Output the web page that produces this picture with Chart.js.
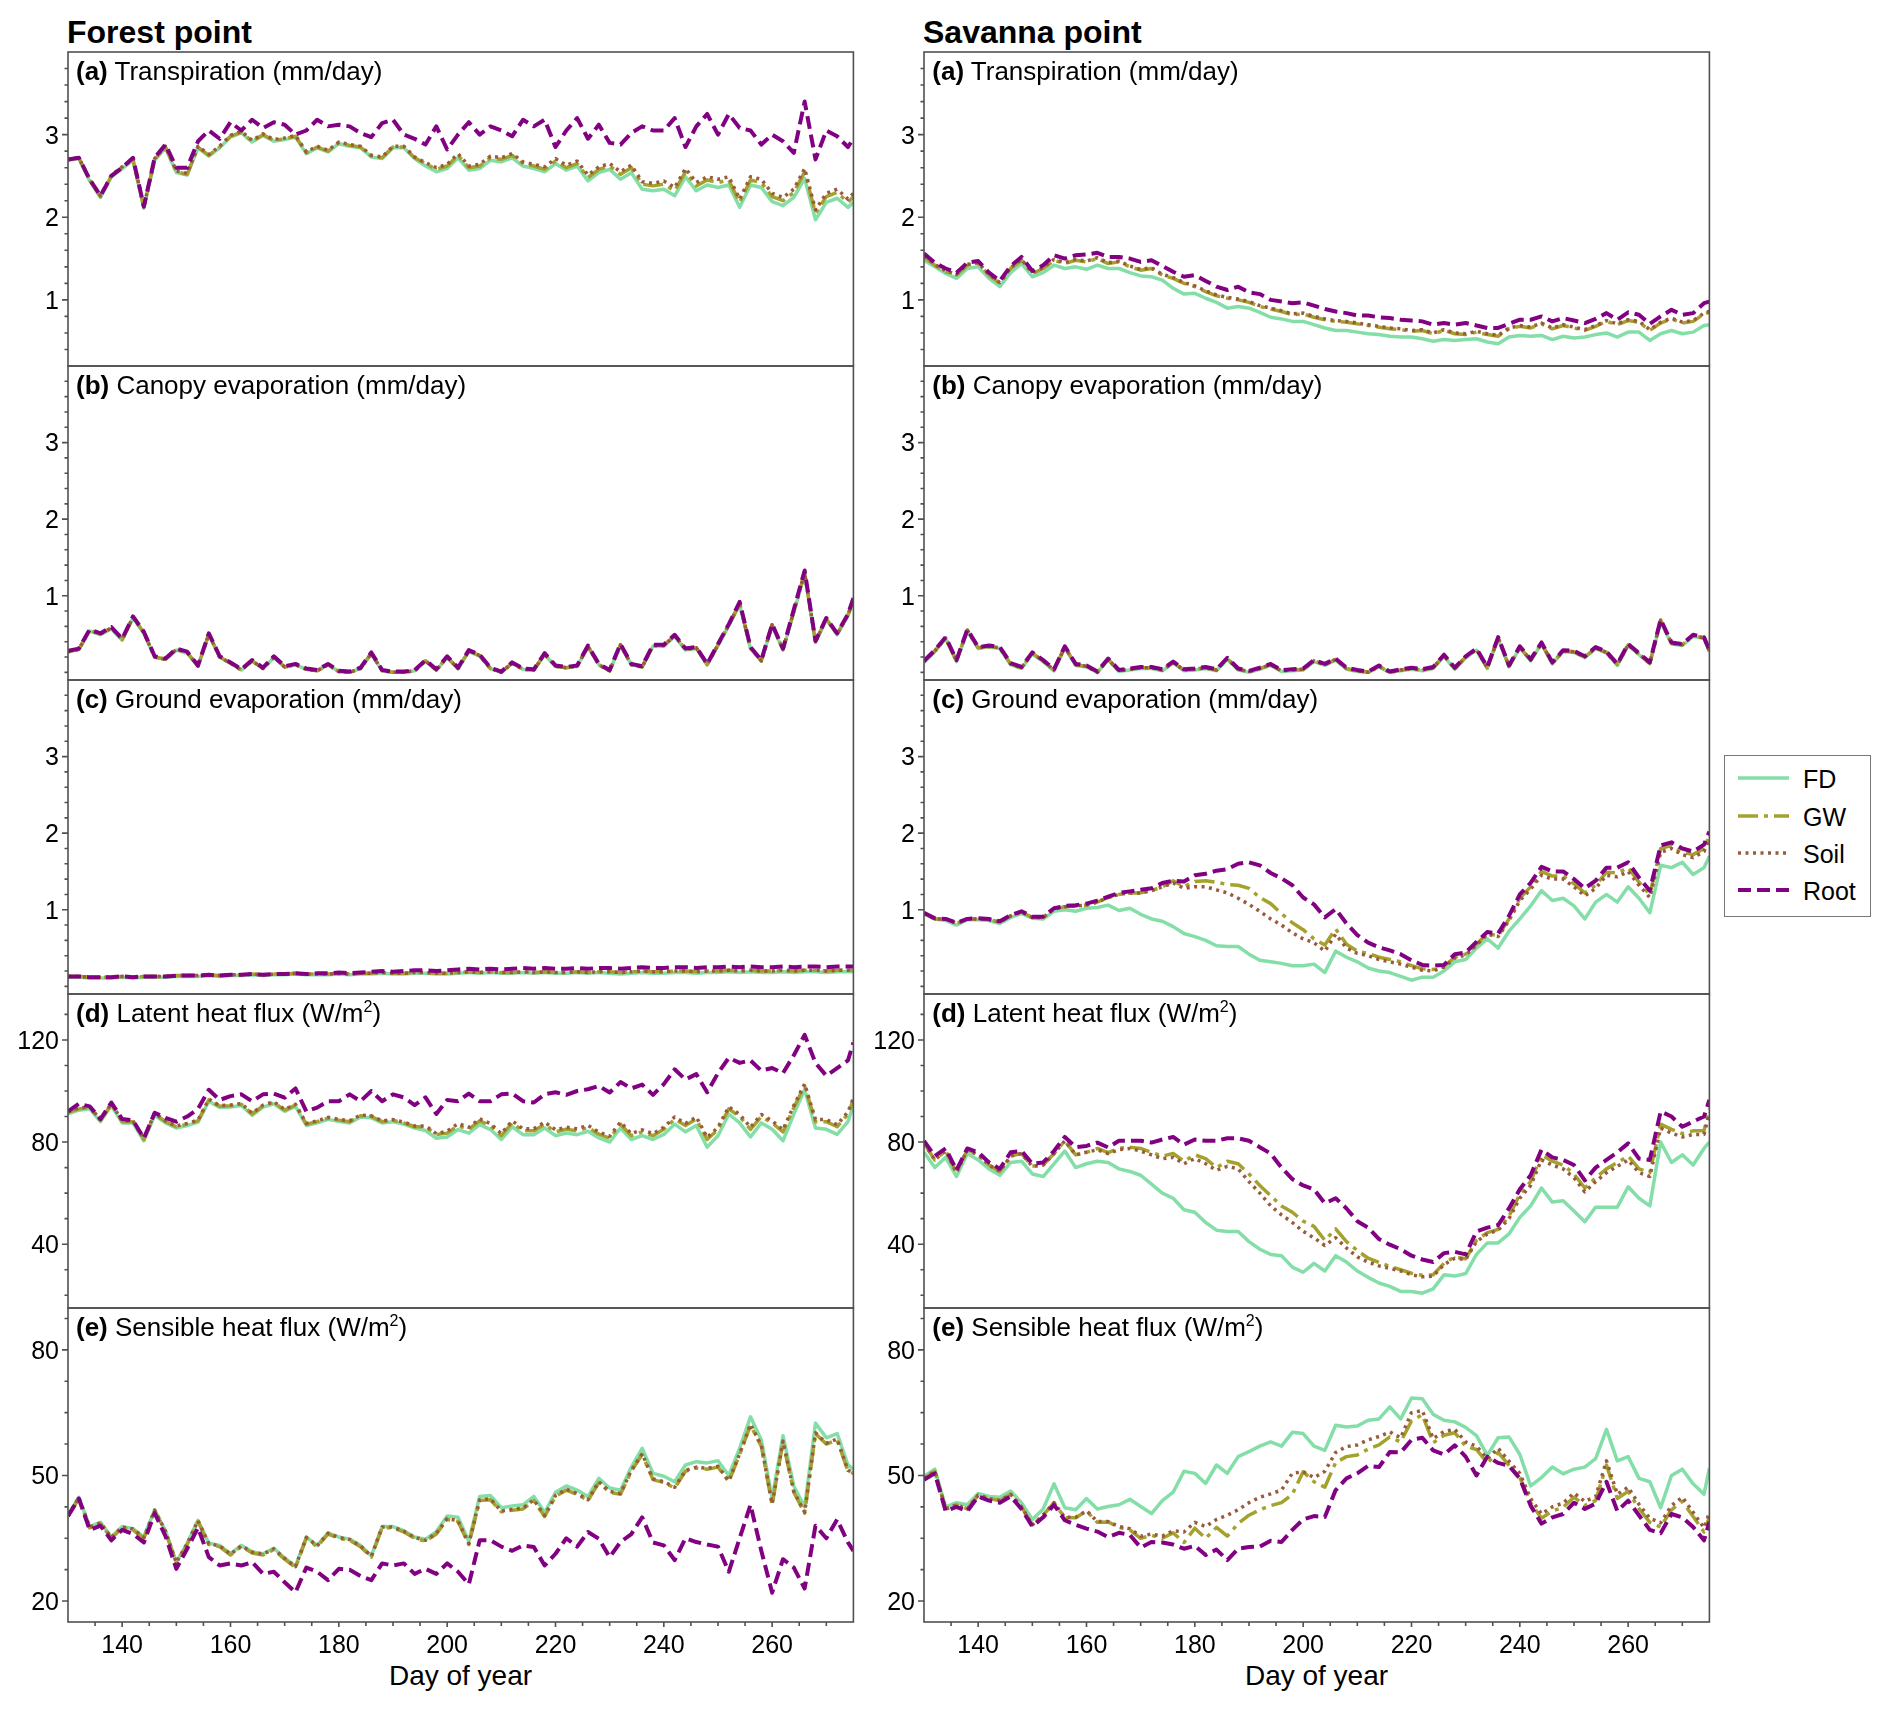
<!DOCTYPE html>
<html>
<head>
<meta charset="utf-8">
<script src="https://cdn.jsdelivr.net/npm/chart.js@4.4.1/dist/chart.umd.min.js"></script>
<style>
  body { margin: 0; background: #fff; width: 1892px; height: 1710px; position: relative; overflow: hidden;
         font-family: "Liberation Sans", Arial, Helvetica, sans-serif; color: #000; }
  canvas { position: absolute; }
  .title { position: absolute; font-weight: bold; font-size: 32px; line-height: 1; white-space: nowrap; }
  .lab { position: absolute; font-size: 26px; line-height: 1; white-space: nowrap; }
  .sup { font-size: 16px; position: relative; top: -10px; }
  .xt { position: absolute; font-size: 28px; line-height: 1; text-align: center; width: 785px; }
  #legend { position: absolute; left: 1724px; top: 755px; width: 145px; height: 160px;
            border: 1.5px solid #777; background: #fff; }
  .lg-line { position: absolute; left: 12.5px; }
  .lg-text { position: absolute; left: 78px; font-size: 25px; line-height: 1; }
</style>
</head>
<body>
<div class="title" style="left:67px;top:16px">Forest point</div>
<div class="title" style="left:923px;top:16px">Savanna point</div>
<div class="xt" style="left:68px;top:1662px">Day of year</div>
<div class="xt" style="left:924px;top:1662px">Day of year</div>
<div id="legend"></div>

<script>
// day of year (sampled every 2nd day)
const days = [130,132,134,136,138,140,142,144,146,148,150,152,154,156,158,160,162,164,166,168,
  170,172,174,176,178,180,182,184,186,188,190,192,194,196,198,200,202,204,206,208,
  210,212,214,216,218,220,222,224,226,228,230,232,234,236,238,240,242,244,246,248,
  250,252,254,256,258,260,262,264,266,268,270,272,274,275];

// ---- Forest point ----
// (a) transpiration, mm/day
const forestTrFD = [2.69,2.71,2.44,2.24,2.49,2.59,2.69,2.11,2.69,2.84, 2.54,2.51,2.84,2.74,2.84,2.97,3.02,2.91,2.99,2.92,
  2.94,2.97,2.77,2.84,2.79,2.89,2.86,2.84,2.73,2.71, 2.84,2.84,2.71,2.62,2.55,2.59,2.72,2.57,2.59,2.69,
  2.67,2.72,2.62,2.59,2.55,2.65,2.57,2.62,2.44,2.54, 2.58,2.46,2.54,2.34,2.32,2.34,2.26,2.49,2.32,2.39,
  2.36,2.39,2.12,2.39,2.36,2.19,2.14,2.24,2.47,1.97, 2.18,2.23,2.12,2.18];
const forestTrGW = [2.70,2.72,2.45,2.25,2.50,2.60,2.70,2.12,2.70,2.85, 2.55,2.52,2.85,2.75,2.85,2.98,3.03,2.92,3.00,2.93,
  2.95,2.98,2.78,2.85,2.80,2.90,2.87,2.85,2.74,2.72, 2.85,2.85,2.72,2.65,2.58,2.62,2.75,2.60,2.62,2.72,
  2.70,2.75,2.65,2.62,2.58,2.68,2.60,2.65,2.48,2.58, 2.62,2.52,2.60,2.40,2.38,2.40,2.32,2.55,2.38,2.45,
  2.42,2.45,2.18,2.45,2.42,2.25,2.20,2.30,2.55,2.05, 2.25,2.30,2.18,2.25];
const forestTrSoil = [2.70,2.72,2.46,2.26,2.51,2.61,2.71,2.13,2.71,2.86, 2.56,2.53,2.86,2.76,2.86,2.99,3.04,2.93,3.01,2.94,
  2.96,2.99,2.79,2.86,2.81,2.91,2.88,2.86,2.75,2.73, 2.86,2.86,2.73,2.66,2.60,2.64,2.77,2.62,2.64,2.74,
  2.72,2.77,2.67,2.64,2.61,2.71,2.63,2.68,2.51,2.61, 2.65,2.55,2.63,2.43,2.41,2.44,2.36,2.59,2.42,2.49,
  2.46,2.49,2.22,2.49,2.46,2.29,2.24,2.34,2.59,2.09, 2.29,2.34,2.22,2.29];
const forestTrRoot = [2.70,2.72,2.46,2.26,2.50,2.60,2.72,2.13,2.72,2.88, 2.60,2.60,2.92,3.05,2.95,3.15,3.05,3.18,3.08,3.15,
  3.12,3.00,3.05,3.18,3.10,3.12,3.10,3.02,2.97,3.14, 3.18,3.00,2.95,2.88,3.10,2.82,3.00,3.15,3.00,3.10,
  3.05,2.98,3.18,3.10,3.18,2.85,3.05,3.20,2.95,3.12, 2.90,2.88,3.02,3.10,3.05,3.05,3.20,2.85,3.10,3.25,
  3.00,3.25,3.08,3.05,2.88,3.00,2.92,2.78,3.40,2.70, 3.05,2.98,2.85,2.95];

// (b) canopy evaporation, mm/day
const forestCeFD = [0.27,0.30,0.54,0.49,0.57,0.42,0.71,0.51,0.20,0.17, 0.29,0.25,0.08,0.49,0.20,0.12,0.03,0.15,0.05,0.19,
  0.07,0.10,0.04,0.02,0.10,0.01,0.00,0.05,0.24,0.02, 0.00,0.00,0.02,0.15,0.03,0.19,0.05,0.27,0.21,0.05,
  0.00,0.12,0.04,0.03,0.23,0.08,0.06,0.08,0.33,0.10, 0.02,0.35,0.10,0.07,0.34,0.34,0.47,0.29,0.31,0.10,
  0.35,0.61,0.88,0.31,0.15,0.61,0.29,0.78,1.28,0.39, 0.69,0.49,0.74,0.93];
const forestCeGW = [0.27,0.30,0.55,0.50,0.58,0.43,0.72,0.52,0.20,0.17, 0.30,0.26,0.08,0.50,0.20,0.12,0.03,0.15,0.05,0.20,
  0.07,0.10,0.04,0.02,0.10,0.01,0.00,0.05,0.25,0.02, 0.00,0.00,0.02,0.15,0.03,0.20,0.05,0.28,0.22,0.05,
  0.00,0.12,0.04,0.03,0.24,0.08,0.06,0.08,0.34,0.10, 0.02,0.36,0.10,0.07,0.35,0.35,0.48,0.30,0.32,0.10,
  0.36,0.62,0.90,0.32,0.15,0.62,0.30,0.80,1.30,0.40, 0.70,0.50,0.75,0.95];
const forestCeSoil = [0.27,0.30,0.55,0.50,0.58,0.43,0.72,0.52,0.20,0.17, 0.30,0.26,0.08,0.50,0.20,0.12,0.03,0.15,0.05,0.20,
  0.07,0.10,0.04,0.02,0.10,0.01,0.00,0.05,0.25,0.02, 0.00,0.00,0.02,0.15,0.03,0.20,0.05,0.28,0.22,0.05,
  0.00,0.12,0.04,0.03,0.24,0.08,0.06,0.08,0.34,0.10, 0.02,0.36,0.10,0.07,0.35,0.35,0.48,0.30,0.32,0.10,
  0.36,0.62,0.90,0.32,0.15,0.62,0.30,0.80,1.30,0.40, 0.70,0.50,0.75,0.95];
const forestCeRoot = [0.28,0.31,0.56,0.51,0.59,0.44,0.73,0.53,0.21,0.18, 0.31,0.27,0.09,0.51,0.21,0.13,0.04,0.16,0.06,0.21,
  0.08,0.11,0.05,0.03,0.11,0.02,0.01,0.06,0.26,0.03, 0.01,0.01,0.03,0.16,0.04,0.21,0.06,0.29,0.23,0.06,
  0.01,0.13,0.05,0.04,0.25,0.09,0.07,0.09,0.35,0.11, 0.03,0.37,0.11,0.08,0.36,0.36,0.49,0.31,0.33,0.11,
  0.37,0.63,0.92,0.33,0.16,0.63,0.31,0.82,1.33,0.41, 0.71,0.51,0.76,0.97];

// (c) ground evaporation, mm/day
const forestGeFD = [0.12,0.12,0.11,0.11,0.11,0.12,0.11,0.12,0.12,0.12, 0.13,0.13,0.13,0.14,0.13,0.14,0.14,0.15,0.14,0.15,
  0.15,0.16,0.15,0.15,0.15,0.16,0.15,0.16,0.16,0.17, 0.16,0.16,0.17,0.17,0.16,0.16,0.17,0.18,0.17,0.18,
  0.17,0.17,0.18,0.17,0.18,0.17,0.17,0.18,0.17,0.18, 0.17,0.16,0.17,0.18,0.17,0.17,0.18,0.18,0.17,0.18,
  0.18,0.19,0.18,0.19,0.18,0.18,0.19,0.18,0.19,0.19, 0.18,0.19,0.19,0.19];
const forestGeGW = [0.13,0.13,0.12,0.12,0.12,0.13,0.12,0.13,0.13,0.13, 0.14,0.14,0.14,0.15,0.14,0.15,0.15,0.16,0.15,0.16,
  0.16,0.17,0.16,0.16,0.16,0.17,0.16,0.17,0.17,0.18, 0.17,0.17,0.18,0.18,0.17,0.17,0.18,0.19,0.18,0.19,
  0.18,0.18,0.19,0.18,0.19,0.18,0.18,0.19,0.18,0.19, 0.19,0.18,0.19,0.20,0.19,0.19,0.20,0.20,0.19,0.20,
  0.20,0.21,0.20,0.21,0.20,0.20,0.21,0.20,0.21,0.21, 0.20,0.21,0.21,0.21];
const forestGeSoil = [0.13,0.13,0.12,0.12,0.12,0.13,0.12,0.13,0.13,0.13, 0.14,0.14,0.14,0.15,0.14,0.15,0.15,0.16,0.15,0.16,
  0.16,0.17,0.16,0.16,0.16,0.17,0.16,0.17,0.17,0.18, 0.17,0.17,0.18,0.18,0.17,0.17,0.18,0.19,0.18,0.19,
  0.18,0.18,0.19,0.18,0.19,0.18,0.18,0.19,0.18,0.19, 0.19,0.18,0.19,0.20,0.19,0.19,0.20,0.20,0.19,0.20,
  0.20,0.21,0.20,0.21,0.20,0.20,0.21,0.20,0.21,0.21, 0.20,0.21,0.21,0.21];
const forestGeRoot = [0.13,0.13,0.12,0.12,0.12,0.13,0.12,0.13,0.13,0.13, 0.14,0.14,0.14,0.15,0.14,0.15,0.15,0.16,0.15,0.16,
  0.16,0.17,0.16,0.17,0.17,0.18,0.17,0.18,0.19,0.20, 0.19,0.20,0.21,0.21,0.20,0.21,0.22,0.23,0.22,0.23,
  0.22,0.23,0.24,0.23,0.24,0.23,0.23,0.24,0.23,0.24, 0.24,0.23,0.24,0.25,0.24,0.24,0.25,0.25,0.24,0.25,
  0.25,0.26,0.25,0.26,0.25,0.25,0.26,0.25,0.26,0.26, 0.25,0.26,0.26,0.26];

// (d) latent heat flux, W/m2
const forestLhFD = [91.1,92.5,93.0,88.0,94.3,87.5,87.5,80.5,90.5,87.5, 85.5,86.5,87.8,96.0,93.5,93.7,94.3,90.5,93.7,95.0,
  92.0,94.0,86.5,87.5,88.9,88.1,87.5,89.8,89.5,87.5, 88.0,87.0,85.5,84.5,81.5,82.0,84.9,83.5,86.8,84.9,
  81.0,86.0,82.9,82.9,85.5,82.5,83.5,82.9,84.2,81.6, 80.0,85.5,81.0,82.5,81.0,83.0,87.0,84.0,86.5,78.0,
  82.5,91.0,87.5,82.0,87.5,85.0,80.5,91.0,100.5,85.5, 85.0,83.0,88.0,94.5];
const forestLhGW = [91.6,93.0,93.5,88.5,94.8,88.0,88.0,81.0,91.0,88.0, 86.0,87.0,88.3,96.5,94.0,94.2,94.8,91.0,94.2,95.5,
  92.5,94.5,87.0,88.0,89.4,88.6,88.0,90.3,90.0,88.0, 88.5,87.5,86.0,86.0,83.0,83.5,86.4,85.0,88.3,86.4,
  82.5,87.5,84.4,84.4,87.0,84.0,85.0,84.4,85.7,83.1, 81.5,87.0,82.5,84.0,82.5,85.0,89.0,86.5,89.0,81.0,
  85.0,93.0,90.0,85.0,90.0,87.5,84.0,93.5,102.0,88.0, 88.0,86.0,91.0,96.5];
const forestLhSoil = [91.8,93.3,93.8,88.8,95.1,88.3,88.3,81.3,91.3,88.3, 86.3,87.3,88.6,96.8,94.3,94.5,95.1,91.3,94.5,95.8,
  92.8,94.8,87.3,88.3,89.7,88.9,88.3,90.6,90.3,88.3, 88.8,87.8,86.3,86.3,83.3,84.3,87.2,85.8,89.1,87.2,
  83.3,88.3,85.2,85.2,87.8,84.8,85.8,85.2,86.5,83.9, 82.3,87.8,83.3,84.8,83.3,85.8,89.8,87.3,89.8,81.8,
  85.8,93.8,90.8,85.8,90.8,88.3,84.8,94.3,102.8,88.8, 88.8,86.8,91.8,97.3];
const forestLhRoot = [92.0,95.0,94.0,89.0,95.5,89.0,88.5,81.5,91.5,89.5, 88.0,90.0,93.0,100.5,96.5,98.0,98.7,96.0,98.7,99.0,
  97.4,101.0,92.0,93.5,96.0,96.0,98.7,96.0,100.0,96.0, 98.7,97.5,94.5,97.5,91.0,96.5,96.0,99.0,96.0,96.0,
  98.7,99.0,96.0,95.5,98.7,99.5,98.5,100.0,100.7,102.0, 99.4,103.5,101.0,102.5,98.5,102.7,108.5,104.5,106.6,99.5,
  107.0,113.0,111.0,112.0,108.0,109.0,107.0,114.0,122.0,111.0, 106.0,109.0,112.0,119.0];

// (e) sensible heat flux, W/m2
const forestShFD = [40.5,44.8,37.8,38.8,35.3,37.8,37.3,35.3,41.8,36.8, 29.3,33.8,39.3,33.8,33.3,31.3,33.3,31.8,31.3,32.6,
  30.3,28.3,35.3,33.3,36.3,35.3,34.8,33.3,30.8,37.8, 37.8,36.8,35.3,34.8,36.6,40.3,40.0,34.3,45.0,45.2,
  42.3,42.7,43.0,45.0,41.2,46.0,47.5,46.5,45.0,49.3, 47.0,46.5,52.0,56.5,50.5,49.8,48.5,52.5,53.3,53.0,
  53.5,50.0,56.5,64.0,58.5,44.5,59.5,47.5,42.5,62.5, 59.0,60.0,52.5,51.5];
const forestShGW = [40.3,44.5,37.5,38.5,35.0,37.5,37.0,35.0,41.5,36.5, 29.0,33.5,39.0,33.5,33.0,31.0,33.0,31.5,31.0,32.3,
  30.0,28.0,35.0,33.0,36.0,35.0,34.5,33.0,30.5,37.5, 37.5,36.5,35.0,34.3,36.0,39.5,39.0,33.5,44.0,44.2,
  41.3,41.7,42.0,44.0,40.2,45.0,46.5,45.5,44.0,48.3, 46.0,45.5,51.0,55.0,49.0,48.3,47.0,51.0,51.8,51.5,
  52.0,48.5,55.0,62.0,57.0,43.0,58.0,46.0,41.0,60.0, 57.5,58.5,51.0,50.5];
const forestShSoil = [40.5,44.7,37.7,38.7,35.2,37.7,37.2,35.2,41.7,36.7, 29.2,33.7,39.2,33.7,33.2,31.2,33.2,31.7,31.2,32.5,
  30.2,28.2,35.2,33.2,36.2,35.2,34.7,33.2,30.7,37.7, 37.7,36.7,35.2,34.5,36.2,39.7,39.2,33.7,44.2,44.4,
  41.5,41.9,42.2,44.2,40.4,45.2,46.7,45.7,44.2,48.5, 46.2,45.7,51.2,55.2,49.2,48.5,47.2,51.2,52.0,51.7,
  52.2,48.7,55.2,62.2,57.2,43.2,58.2,46.2,41.2,60.2, 57.7,58.7,51.2,50.7];
const forestShRoot = [40.3,44.5,37.0,38.0,34.5,37.0,36.0,34.0,41.0,35.5, 27.7,32.5,37.5,30.5,28.5,29.0,28.5,29.3,26.5,27.0,
  24.5,22.1,28.0,27.0,25.0,27.7,27.5,26.0,25.0,29.0, 28.5,29.0,26.5,27.7,26.5,29.0,27.0,24.0,34.5,34.5,
  33.0,32.0,33.3,32.9,28.5,31.3,35.0,33.0,36.5,34.9, 30.5,34.1,36.0,40.0,34.0,33.3,29.8,35.0,34.1,33.5,
  33.0,27.0,35.0,43.0,32.0,22.0,30.0,28.0,23.0,38.0, 35.0,39.5,34.0,32.0];

// ---- Savanna point ----
const savTrFD = [1.48,1.40,1.32,1.26,1.38,1.40,1.26,1.16,1.33,1.44, 1.28,1.33,1.42,1.38,1.40,1.37,1.42,1.38,1.38,1.33,
  1.29,1.28,1.24,1.14,1.07,1.08,1.02,0.97,0.90,0.92, 0.90,0.85,0.79,0.77,0.74,0.74,0.70,0.66,0.63,0.63,
  0.61,0.59,0.58,0.56,0.55,0.55,0.53,0.50,0.52,0.51, 0.52,0.53,0.49,0.47,0.55,0.57,0.56,0.57,0.52,0.56,
  0.54,0.55,0.58,0.60,0.55,0.61,0.61,0.51,0.59,0.63, 0.59,0.61,0.69,0.70];
const savTrGW = [1.52,1.42,1.34,1.30,1.42,1.44,1.30,1.20,1.38,1.48, 1.32,1.38,1.48,1.44,1.48,1.46,1.50,1.44,1.46,1.40,
  1.36,1.38,1.30,1.26,1.20,1.16,1.10,1.05,1.02,1.00, 0.97,0.92,0.89,0.86,0.82,0.83,0.79,0.76,0.74,0.73,
  0.71,0.69,0.67,0.65,0.64,0.62,0.63,0.59,0.63,0.59, 0.58,0.61,0.58,0.56,0.65,0.68,0.66,0.71,0.65,0.69,
  0.66,0.63,0.68,0.74,0.70,0.75,0.73,0.63,0.72,0.77, 0.72,0.74,0.83,0.85];
const savTrSoil = [1.53,1.43,1.35,1.31,1.43,1.45,1.31,1.21,1.39,1.49, 1.33,1.39,1.49,1.45,1.49,1.47,1.51,1.45,1.47,1.41,
  1.37,1.39,1.31,1.27,1.21,1.17,1.11,1.06,1.03,1.01, 0.98,0.93,0.90,0.87,0.83,0.84,0.80,0.77,0.75,0.74,
  0.72,0.70,0.68,0.66,0.65,0.63,0.64,0.60,0.64,0.60, 0.59,0.62,0.59,0.57,0.66,0.69,0.67,0.72,0.66,0.70,
  0.67,0.64,0.69,0.75,0.71,0.76,0.74,0.64,0.73,0.78, 0.73,0.75,0.84,0.86];
const savTrRoot = [1.56,1.45,1.38,1.33,1.45,1.47,1.33,1.23,1.41,1.52, 1.35,1.42,1.54,1.50,1.54,1.55,1.57,1.52,1.52,1.50,
  1.46,1.48,1.41,1.34,1.28,1.30,1.23,1.16,1.12,1.16, 1.09,1.07,1.00,0.98,0.96,0.97,0.93,0.89,0.86,0.84,
  0.81,0.81,0.79,0.78,0.76,0.75,0.74,0.70,0.72,0.70, 0.72,0.69,0.66,0.66,0.71,0.76,0.76,0.80,0.74,0.78,
  0.75,0.72,0.77,0.84,0.76,0.85,0.82,0.71,0.80,0.88, 0.82,0.84,0.96,0.98];

const savCeFD = [0.13,0.27,0.44,0.14,0.54,0.31,0.33,0.31,0.10,0.05, 0.24,0.14,0.02,0.32,0.09,0.07,0.00,0.16,0.01,0.03,
  0.05,0.05,0.02,0.12,0.02,0.03,0.05,0.02,0.17,0.03, 0.00,0.04,0.09,0.01,0.02,0.03,0.14,0.09,0.16,0.04,
  0.01,0.00,0.07,0.00,0.02,0.04,0.02,0.05,0.21,0.04, 0.19,0.29,0.05,0.44,0.07,0.32,0.15,0.37,0.11,0.27,
  0.26,0.19,0.31,0.25,0.09,0.35,0.23,0.11,0.66,0.37, 0.35,0.47,0.44,0.27];
const savCeGW = [0.14,0.28,0.45,0.15,0.55,0.32,0.34,0.32,0.11,0.06, 0.25,0.15,0.03,0.33,0.10,0.08,0.00,0.17,0.02,0.04,
  0.06,0.06,0.03,0.13,0.03,0.04,0.06,0.03,0.18,0.04, 0.01,0.05,0.10,0.02,0.03,0.04,0.15,0.10,0.17,0.05,
  0.02,0.00,0.08,0.00,0.03,0.05,0.03,0.06,0.22,0.05, 0.20,0.30,0.06,0.45,0.08,0.33,0.16,0.38,0.12,0.28,
  0.27,0.20,0.32,0.26,0.10,0.36,0.24,0.12,0.68,0.38, 0.36,0.48,0.45,0.28];
const savCeSoil = [0.14,0.28,0.45,0.15,0.55,0.32,0.34,0.32,0.11,0.06, 0.25,0.15,0.03,0.33,0.10,0.08,0.00,0.17,0.02,0.04,
  0.06,0.06,0.03,0.13,0.03,0.04,0.06,0.03,0.18,0.04, 0.01,0.05,0.10,0.02,0.03,0.04,0.15,0.10,0.17,0.05,
  0.02,0.00,0.08,0.00,0.03,0.05,0.03,0.06,0.22,0.05, 0.20,0.30,0.06,0.45,0.08,0.33,0.16,0.38,0.12,0.28,
  0.27,0.20,0.32,0.26,0.10,0.36,0.24,0.12,0.68,0.38, 0.36,0.48,0.45,0.28];
const savCeRoot = [0.15,0.29,0.46,0.16,0.56,0.33,0.35,0.33,0.12,0.07, 0.26,0.16,0.04,0.34,0.11,0.09,0.01,0.18,0.03,0.05,
  0.07,0.07,0.04,0.14,0.04,0.05,0.07,0.04,0.19,0.05, 0.02,0.06,0.11,0.03,0.04,0.05,0.16,0.11,0.18,0.06,
  0.03,0.01,0.09,0.01,0.04,0.06,0.04,0.07,0.23,0.06, 0.21,0.31,0.07,0.46,0.09,0.34,0.17,0.39,0.13,0.29,
  0.28,0.21,0.33,0.27,0.11,0.37,0.25,0.13,0.69,0.39, 0.37,0.49,0.46,0.29];

const savGeFD = [0.95,0.88,0.86,0.80,0.87,0.87,0.86,0.82,0.90,0.95, 0.89,0.88,0.98,1.00,0.98,1.02,1.03,1.06,0.99,1.02,
  0.94,0.88,0.85,0.78,0.69,0.65,0.60,0.53,0.52,0.52, 0.42,0.34,0.32,0.30,0.27,0.27,0.29,0.18,0.46,0.38,
  0.32,0.24,0.20,0.18,0.13,0.08,0.12,0.12,0.20,0.32, 0.35,0.50,0.62,0.50,0.72,0.88,1.05,1.25,1.12,1.15,
  1.05,0.88,1.10,1.20,1.10,1.30,1.15,0.96,1.58,1.55, 1.62,1.46,1.55,1.70];
const savGeGW = [0.95,0.88,0.88,0.82,0.88,0.88,0.87,0.84,0.92,0.97, 0.90,0.90,1.01,1.04,1.05,1.06,1.10,1.16,1.20,1.22,
  1.22,1.25,1.30,1.38,1.30,1.37,1.38,1.36,1.33,1.32, 1.28,1.16,1.08,0.95,0.83,0.74,0.62,0.54,0.75,0.55,
  0.46,0.43,0.38,0.35,0.32,0.27,0.23,0.22,0.26,0.38, 0.42,0.55,0.69,0.66,0.88,1.15,1.30,1.50,1.44,1.44,
  1.34,1.22,1.32,1.49,1.48,1.55,1.36,1.20,1.80,1.84, 1.75,1.72,1.80,1.97];
const savGeSoil = [0.95,0.88,0.88,0.82,0.88,0.88,0.87,0.84,0.92,0.97, 0.90,0.90,1.01,1.04,1.05,1.06,1.10,1.16,1.20,1.22,
  1.22,1.25,1.30,1.35,1.28,1.30,1.30,1.26,1.22,1.15, 1.07,0.98,0.88,0.80,0.70,0.62,0.57,0.46,0.68,0.50,
  0.43,0.40,0.35,0.32,0.29,0.25,0.21,0.20,0.25,0.37, 0.41,0.54,0.68,0.65,0.86,1.12,1.27,1.45,1.40,1.40,
  1.30,1.18,1.28,1.45,1.43,1.50,1.32,1.16,1.75,1.80, 1.72,1.68,1.76,1.93];
const savGeRoot = [0.96,0.89,0.88,0.83,0.88,0.89,0.88,0.85,0.93,0.98, 0.91,0.91,1.02,1.05,1.06,1.08,1.12,1.17,1.22,1.24,
  1.26,1.28,1.35,1.38,1.37,1.45,1.47,1.51,1.53,1.60, 1.62,1.58,1.48,1.41,1.32,1.16,1.07,0.90,1.01,0.82,
  0.67,0.57,0.51,0.47,0.42,0.34,0.28,0.27,0.28,0.42, 0.44,0.58,0.71,0.69,0.92,1.20,1.35,1.56,1.50,1.50,
  1.40,1.28,1.38,1.55,1.55,1.62,1.42,1.25,1.84,1.88, 1.80,1.76,1.85,2.02];

const savLhFD = [76.0,70.0,74.0,66.5,75.5,73.0,69.5,67.0,72.0,72.5, 67.5,66.5,71.5,76.5,70.0,71.5,72.5,72.0,69.5,68.5,
  67.0,63.5,60.0,58.0,53.5,52.5,48.5,45.5,45.0,45.0, 41.0,38.0,36.0,35.5,31.0,29.0,32.5,29.5,35.5,33.0,
  29.5,27.0,24.8,23.5,21.5,21.5,20.8,22.5,28.0,27.5, 28.5,36.0,40.5,40.5,44.0,50.5,55.0,62.0,56.5,57.0,
  53.0,48.8,54.5,54.5,54.5,62.5,58.0,55.0,80.0,72.0, 75.0,71.0,77.5,80.0];
const savLhGW = [79.5,73.0,76.6,68.0,77.0,75.0,71.0,68.5,74.5,75.5, 70.5,71.0,75.5,80.5,75.0,76.0,77.5,75.9,77.5,78.0,
  77.5,76.0,74.5,75.5,72.5,75.0,73.5,70.0,72.5,71.5, 67.5,63.0,59.0,55.0,52.5,49.0,47.0,41.5,46.0,41.0,
  37.5,34.5,32.8,31.3,30.0,28.6,27.8,28.0,32.5,35.0, 34.3,41.5,44.5,45.8,51.0,59.5,64.5,75.0,72.5,71.0,
  67.5,62.0,66.0,69.5,72.0,74.5,69.5,68.0,87.0,85.0, 83.3,84.4,84.4,93.0];
const savLhSoil = [79.5,73.0,76.6,68.0,77.0,75.0,71.0,68.5,74.5,75.5, 70.5,71.0,75.5,80.5,75.0,76.0,77.0,75.5,77.0,77.5,
  76.5,75.0,73.5,74.0,71.5,73.5,71.5,69.0,70.5,69.5, 64.5,60.0,55.0,51.5,48.5,45.0,42.5,39.5,42.5,38.5,
  35.0,33.0,31.5,30.5,29.5,28.0,27.2,27.5,32.0,34.5, 34.0,41.0,44.0,45.5,50.0,58.0,63.0,73.0,71.0,69.5,
  66.0,60.5,64.5,68.0,70.5,73.0,68.0,66.5,85.5,83.5, 82.0,83.0,83.0,91.5];
const savLhRoot = [80.5,74.5,77.5,69.0,77.5,76.0,72.0,69.5,76.0,76.5, 71.5,72.0,76.5,82.0,78.0,78.5,79.8,77.9,80.5,80.5,
  80.5,79.8,81.0,82.0,79.0,81.0,80.5,80.5,81.5,81.5, 80.5,78.0,75.5,70.0,65.5,63.0,61.5,56.0,58.0,54.0,
  49.0,46.5,42.0,39.8,38.0,35.5,34.0,33.0,36.5,37.0, 36.0,45.0,46.5,47.5,54.0,61.5,67.0,77.0,74.0,73.0,
  71.0,65.0,70.0,73.0,76.0,79.5,73.5,73.0,92.0,90.0, 86.0,88.0,90.0,96.5];

const savShFD = [49.8,51.5,42.5,43.5,43.0,45.7,45.0,44.8,46.3,43.5, 39.5,42.0,48.0,42.3,41.8,44.5,42.0,42.6,43.0,44.3,
  42.6,40.9,44.0,46.0,51.0,50.5,48.1,52.5,50.5,54.5, 55.7,57.0,58.0,57.0,60.3,60.0,57.0,56.0,62.0,61.6,
  61.8,63.2,63.5,66.4,63.5,68.5,68.3,64.6,63.2,62.8, 61.5,59.5,54.8,59.0,59.2,55.0,47.5,49.5,52.0,50.4,
  51.5,52.0,54.0,61.0,53.5,54.5,49.3,48.5,42.3,50.0, 51.5,48.0,45.5,51.7];
const savShGW = [49.3,51.0,42.0,43.0,42.0,45.3,44.5,44.0,45.5,42.5, 38.2,40.5,43.5,39.9,39.9,41.5,38.8,38.9,37.6,37.0,
  35.0,35.7,35.0,36.3,34.0,37.4,35.0,37.6,35.5,38.5, 40.5,41.8,42.8,43.5,45.5,50.9,48.5,47.2,53.1,54.5,
  54.9,56.3,57.3,59.2,58.0,63.0,64.5,57.8,59.6,60.2, 57.0,56.2,53.0,55.5,52.4,49.5,43.5,39.8,41.5,42.4,
  44.8,42.8,44.0,52.5,44.5,46.2,42.1,38.8,37.7,41.8, 43.8,40.2,36.5,40.1];
const savShSoil = [49.3,51.0,42.0,43.0,42.0,45.3,44.5,44.0,45.5,42.5, 38.2,40.5,43.5,40.0,40.0,41.6,39.0,39.0,37.8,37.3,
  35.5,36.0,35.5,36.8,36.5,38.8,37.8,39.5,40.5,41.8, 43.5,44.8,45.6,46.5,50.5,50.9,49.5,51.0,55.5,56.9,
  57.3,58.5,59.3,60.4,59.0,65.0,65.5,58.8,60.5,61.0, 58.0,57.0,54.0,56.5,53.4,50.5,44.5,40.8,42.5,43.4,
  45.8,43.8,45.0,53.5,45.5,47.2,43.1,39.8,38.7,42.8, 44.8,41.2,37.5,41.1];
const savShRoot = [49.0,50.5,41.5,42.5,41.5,45.0,44.0,43.5,45.0,42.0, 37.8,40.0,43.0,39.3,38.2,37.3,36.6,35.3,36.3,35.8,
  32.8,34.1,34.0,33.5,32.5,33.2,31.0,32.3,29.8,32.5, 32.9,33.0,34.4,34.1,37.0,39.5,40.3,40.1,46.5,49.3,
  50.5,52.3,52.0,55.6,55.5,58.5,59.0,56.0,55.0,57.2, 54.5,50.0,54.5,53.0,52.3,49.3,42.8,38.5,40.0,40.8,
  43.5,42.0,43.3,48.5,41.5,44.0,40.5,37.0,36.2,40.8, 40.0,37.7,34.5,38.9];

// series order in every row: FD, GW, Soil, Root
const forestRows = [
  [forestTrFD, forestTrGW, forestTrSoil, forestTrRoot],
  [forestCeFD, forestCeGW, forestCeSoil, forestCeRoot],
  [forestGeFD, forestGeGW, forestGeSoil, forestGeRoot],
  [forestLhFD, forestLhGW, forestLhSoil, forestLhRoot],
  [forestShFD, forestShGW, forestShSoil, forestShRoot]
];
const savannaRows = [
  [savTrFD, savTrGW, savTrSoil, savTrRoot],
  [savCeFD, savCeGW, savCeSoil, savCeRoot],
  [savGeFD, savGeGW, savGeSoil, savGeRoot],
  [savLhFD, savLhGW, savLhSoil, savLhRoot],
  [savShFD, savShGW, savShSoil, savShRoot]
];

const seriesNames = ['FD', 'GW', 'Soil', 'Root'];
const seriesColors = ['#84dea8', '#a4a22c', '#9a5a3c', '#820082'];
const seriesDash = [[], [20, 6, 4, 6], [3, 4.5], [13, 6]];
const seriesWidth = [3.5, 3.5, 3.5, 4];

const panelLetters = ['a', 'b', 'c', 'd', 'e'];
const panelTitles = ['Transpiration (mm/day)', 'Canopy evaporation (mm/day)', 'Ground evaporation (mm/day)',
  'Latent heat flux (W/m<span class="sup">2</span>)', 'Sensible heat flux (W/m<span class="sup">2</span>)'];

// axes
const yMin = [0.2, -0.1, -0.1, 15, 15];
const yMax = [4, 4, 4, 138, 90];
const yMajor = [[1, 2, 3], [1, 2, 3], [1, 2, 3], [40, 80, 120], [20, 50, 80]];
const mmMinor = [0.4, 0.6, 0.8, 1.2, 1.4, 1.6, 1.8, 2.2, 2.4, 2.6, 2.8, 3.2, 3.4, 3.6, 3.8];
const yMinor = [mmMinor, [0, 0.2].concat(mmMinor), [0, 0.2].concat(mmMinor),
  [20, 30, 50, 60, 70, 90, 100, 110, 130], [27.5, 35, 42.5, 57.5, 65, 72.5, 87.5]];
const xMajor = [140, 160, 180, 200, 220, 240, 260];
const xMinor = [135, 145, 150, 155, 165, 170, 175, 185, 190, 195, 205, 210, 215, 225, 230, 235, 245, 250, 255, 265, 270];

Chart.defaults.font.family = '"Liberation Sans", Arial, Helvetica, sans-serif';
Chart.defaults.color = '#000';

// frame box plus major/minor tick marks drawn from the scales
const frameTicks = {
  id: 'frameTicks',
  afterDraw(chart, args, opts) {
    const ctx = chart.ctx, a = chart.chartArea;
    const x = chart.scales.x, y = chart.scales.y;
    ctx.save();
    ctx.strokeStyle = '#505050';
    ctx.lineWidth = 1.6;
    ctx.strokeRect(a.left, a.top, a.right - a.left, a.bottom - a.top);
    ctx.beginPath();
    opts.major.forEach(v => { const p = y.getPixelForValue(v); ctx.moveTo(a.left - 6, p); ctx.lineTo(a.left, p); });
    opts.minor.forEach(v => { const p = y.getPixelForValue(v); ctx.moveTo(a.left - 3.5, p); ctx.lineTo(a.left, p); });
    if (opts.bottom) {
      xMajor.forEach(v => { const p = x.getPixelForValue(v); ctx.moveTo(p, a.bottom); ctx.lineTo(p, a.bottom + 5); });
      xMinor.forEach(v => { const p = x.getPixelForValue(v); ctx.moveTo(p, a.bottom); ctx.lineTo(p, a.bottom + 4); });
    }
    ctx.stroke();
    ctx.restore();
  }
};

const panelLeft = [68, 924.3];
const panelTop0 = 51.7, panelH = 314, panelW = 785.4;
const padL = 70, padT = 24;

function makePanel(col, row, series) {
  const pl = panelLeft[col], pt = panelTop0 + row * panelH;
  const bottom = row === 4;
  const padB = bottom ? 64 : 24;
  const W = Math.ceil(padL + panelW + 12), H = padT + panelH + padB;
  const cv = document.createElement('canvas');
  cv.width = W; cv.height = H;
  cv.style.left = (pl - padL) + 'px';
  cv.style.top = (pt - padT) + 'px';
  cv.style.width = W + 'px';
  cv.style.height = H + 'px';
  document.body.appendChild(cv);

  const lab = document.createElement('div');
  lab.className = 'lab';
  lab.style.left = (pl + 8) + 'px';
  lab.style.top = (pt + 6) + 'px';
  lab.innerHTML = '<b>(' + panelLetters[row] + ')</b> ' + panelTitles[row];
  document.body.appendChild(lab);

  new Chart(cv, {
    type: 'line',
    data: {
      // Root first so that it is drawn on top
      datasets: [3, 2, 1, 0].map(k => ({
        label: seriesNames[k],
        data: days.map((d, i) => ({ x: d, y: series[k][i] })),
        borderColor: seriesColors[k],
        borderWidth: seriesWidth[k],
        borderDash: seriesDash[k],
        borderJoinStyle: 'round',
        pointRadius: 0,
        fill: false,
        tension: 0
      }))
    },
    options: {
      responsive: false,
      animation: false,
      events: [],
      layout: { padding: { left: 0, top: padT, right: W - padL - panelW, bottom: bottom ? 0 : padB } },
      plugins: {
        legend: { display: false },
        tooltip: { enabled: false },
        frameTicks: { major: yMajor[row], minor: yMinor[row], bottom: bottom }
      },
      scales: {
        x: {
          type: 'linear', min: 130, max: 275, display: bottom, bounds: 'data',
          grid: { display: false, drawTicks: false }, border: { display: false },
          ticks: { padding: 9, font: { size: 25 } },
          afterBuildTicks: s => { s.ticks = xMajor.map(v => ({ value: v })); },
          afterFit: s => { s.height = bottom ? padB : 0; }
        },
        y: {
          type: 'linear', min: yMin[row], max: yMax[row], bounds: 'data',
          grid: { display: false, drawTicks: false }, border: { display: false },
          ticks: { padding: 9, labelOffset: 2, font: { size: 25 } },
          afterBuildTicks: s => { s.ticks = yMajor[row].map(v => ({ value: v })); },
          afterFit: s => { s.width = padL; }
        }
      }
    },
    plugins: [frameTicks]
  });
}

forestRows.forEach((series, row) => makePanel(0, row, series));
savannaRows.forEach((series, row) => makePanel(1, row, series));

// legend
const legend = document.getElementById('legend');
const legendY = [21.5, 59.5, 96.5, 133.5];
seriesNames.forEach((name, k) => {
  const svg = '<svg class="lg-line" style="top:' + (legendY[k] - 5) + 'px" width="52" height="10">' +
    '<line x1="0" y1="5" x2="51" y2="5" stroke="' + seriesColors[k] + '" stroke-width="' + seriesWidth[k] + '"' +
    (seriesDash[k].length ? ' stroke-dasharray="' + seriesDash[k].join(',') + '"' : '') + '/></svg>';
  legend.insertAdjacentHTML('beforeend', svg +
    '<div class="lg-text" style="top:' + (legendY[k] - 10.5) + 'px">' + name + '</div>');
});
</script>
</body>
</html>
